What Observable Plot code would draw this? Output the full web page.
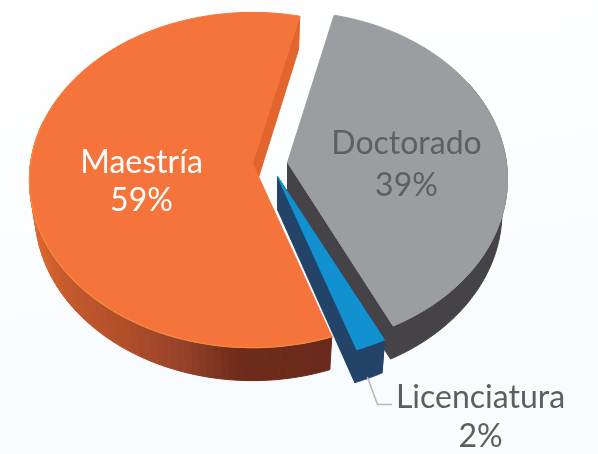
<!DOCTYPE html>
<html><head><meta charset="utf-8">
<script src="https://cdn.jsdelivr.net/npm/d3@7"></script>
<script src="https://cdn.jsdelivr.net/npm/@observablehq/plot@0.6"></script>
<style>
html,body{margin:0;padding:0;width:598px;height:454px;overflow:hidden;background:linear-gradient(170deg,#ffffff 0%,#fdfeff 35%,#f8fbfe 75%,#fafcfe 100%)}
svg{display:block;background:transparent!important;filter:blur(.5px)}
</style></head><body><div id="c"></div>
<script>
const categories = ["Doctorado", "Licenciatura", "Maestría"];
const shares = [39, 2, 59];
const startAngle = 13.5;

// projection of the tilted pie plate
const A = 222, B = 166, K = 0.0985, DEPTH = 33, FLOOR = 0.975;
const apexes = {Doctorado: [287, 162], Licenciatura: [277, 176], "Maestría": [252, 163]};
const widthScale = {Doctorado: 0.986, Licenciatura: 1, "Maestría": 1};
const look = {
  Doctorado: {top: "#9b9ea0", wall: "#454347", cut: "#454347", front: [60, 200]},
  Licenciatura: {top: "#1191d0", wall: "#234468", cut: "#234468", front: [0, 400]},
  "Maestría": {top: "#f4743b", wall: null, cut: "#e2652d", front: [0, 285]}
};
const wallRamp = d3.scaleLinear().domain([29, 60, 120, 180, 235, 330])
  .range(["#e2672e", "#c65a2c", "#b04f2a", "#96432a", "#6f2b1b", "#6a2a1b"]);

function project(cat, deg, r = 1) {
  const t = deg * Math.PI / 180, u = r * Math.sin(t), v = -r * Math.cos(t), w = 1 - K * v;
  const [ax, ay] = apexes[cat];
  return [ax + widthScale[cat] * A * u / w, ay + B * v / w];
}
function floor(cat, p) {
  const ax = apexes[cat][0];
  return [ax + (p[0] - ax) * FLOOR, p[1] + DEPTH];
}

const polys = [];
const rims = [];
let id = 0;
function add(pts, fill) { id++; [...pts, pts[0]].forEach(p => polys.push({x: p[0], y: p[1], id, fill})); }

let acc = startAngle;
const slices = categories.map((c, i) => {
  const a0 = acc, a1 = acc + shares[i] * 3.6; acc = a1;
  return {c, a0, a1, share: shares[i]};
});
const drawOrder = ["Maestría", "Doctorado", "Licenciatura"];
for (const c of drawOrder) {
  const s = slices.find(d => d.c === c), L = look[c];
  const apex = project(c, 0, 0);
  const angles = d3.range(0, 121).map(i => s.a0 + (s.a1 - s.a0) * i / 120);
  for (const a of (c === "Licenciatura" ? [s.a0, s.a1] : [s.a1])) {
    const e = project(c, a);
    add([apex, e, floor(c, e), floor(c, apex)], L.cut);
  }
  const visible = angles.filter(a => a >= L.front[0] && a <= L.front[1]);
  if (L.wall) {
    add([...visible.map(a => project(c, a)), ...visible.slice().reverse().map(a => floor(c, project(c, a)))], L.wall);
  } else {
    for (let i = 0; i < visible.length - 1; i++) {
      const p = project(c, visible[i]), q = project(c, visible[i + 1]);
      add([p, q, floor(c, q), floor(c, p)], wallRamp((p[0] + q[0]) / 2));
    }
  }
  add([apex, ...angles.map(a => project(c, a))], L.top);
  if (c === "Maestría") angles.filter(a => a > 161 && a < 285).forEach(a => {
    const p = project(c, a); rims.push({x: p[0], y: p[1]});
  });
}

const labelRows = [
  {text: "Maestría", x: 141, y: 162, fill: "#ffffff"},
  {text: shares[2] + "%", x: 141, y: 200, fill: "#ffffff"},
  {text: "Doctorado", x: 406, y: 143, fill: "#5e5f61"},
  {text: shares[0] + "%", x: 406, y: 185, fill: "#5e5f61"},
  {text: "Licenciatura", x: 480, y: 397, fill: "#5e5e60"},
  {text: shares[1] + "%", x: 480, y: 436, fill: "#5e5e60"}
];
const leaderX = [367, 377, 391], leaderY = [377, 404, 404];

const chart = Plot.plot({
  width: 598, height: 454, margin: 0,
  x: {domain: [0, 598], range: [0, 598], axis: null},
  y: {domain: [0, 454], range: [0, 454], axis: null},
  color: {type: "identity"},
  style: {background: "transparent"},
  marks: [
    Plot.line(polys, {x: "x", y: "y", z: "id", fill: "fill", stroke: "fill", strokeWidth: 1}),
    Plot.line(rims, {x: "x", y: "y", stroke: "#f58b42", strokeWidth: 1.2}),
    Plot.line(leaderX.map((x, i) => ({x, y: leaderY[i]})), {x: "x", y: "y", stroke: "#b8b8b8", strokeWidth: 1.5}),
    Plot.text(labelRows, {x: "x", y: "y", text: "text", fill: "fill", fontSize: 32, fontFamily: "Lato", textAnchor: "middle"})
  ]
});
document.getElementById("c").append(chart);
</script></body></html>
